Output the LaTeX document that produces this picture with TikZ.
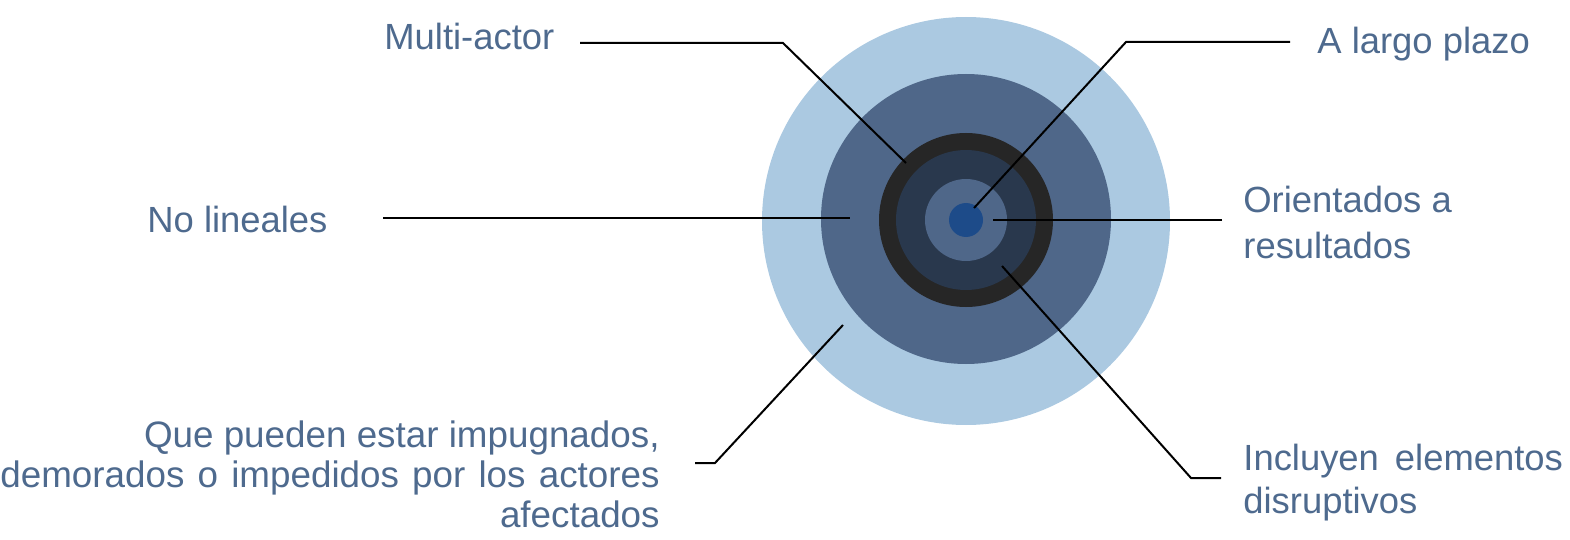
\documentclass[tikz,border=0pt]{standalone}
\usepackage{fontspec}
\setmainfont{Liberation Sans}
\definecolor{txtblue}{HTML}{4E6A8E}
\definecolor{lightblue}{HTML}{ABC9E1}
\definecolor{midblue}{HTML}{4F6789}
\definecolor{ringdark}{HTML}{262626}
\definecolor{navy}{HTML}{29384D}
\definecolor{dotblue}{HTML}{1D4B89}
\begin{document}
\begin{tikzpicture}[x=0.5pt,y=-0.5pt,
  lbl/.style={text=txtblue, font=\fontsize{18.2}{22}\selectfont, inner sep=0pt},
  lblq/.style={text=txtblue, font=\fontsize{18.4}{22}\selectfont, inner sep=0pt},
  disc/.style={circle, draw=none, inner sep=0pt, fill=#1},
  conn/.style={draw=black, line width=1pt, line join=miter}]
\useasboundingbox (0,0) rectangle (1570,540);
% concentric discs
\node[disc=lightblue, minimum size=204pt] (c1) at (966,221) {};
\node[disc=midblue, minimum size=145pt] (c2) at (966,219) {};
\node[disc=ringdark, minimum size=87pt] (c3) at (966,220) {};
\node[disc=navy, minimum size=70pt] (c4) at (966,220) {};
\node[disc=midblue, minimum size=41pt] (c5) at (966,220) {};
\node[disc=dotblue, minimum size=17pt] (c6) at (966,220) {};
% labels
\node[lbl, anchor=base west] (ma) at (384,50) {Multi-actor};
\node[lbl, anchor=base west] (alp) at (1317,54) {A largo plazo};
\node[lbl, anchor=base west] (nl) at (147,233) {No lineales};
\node[lbl, anchor=base west] (or1) at (1243,213) {Orientados a};
\node[lbl, anchor=base west] (or2) at (1243,258) {resultados};
\node[lbl, anchor=base west] (in1) at (1243,470) {Incluyen\hspace{8pt}elementos};
\node[lbl, anchor=base west] (in2) at (1243,513) {disruptivos};
\node[lblq, anchor=base east] (q1) at (660,447) {Que pueden estar impugnados,};
\node[lblq, anchor=base east] (q2) at (660,487) {\spaceskip=6.6pt plus 0pt minus 0pt demorados o impedidos por los actores};
\node[lblq, anchor=base east] (q3) at (660,527) {afectados};
% connector points
\coordinate (maS) at (580,43);  \coordinate (maB) at (783,43);  \coordinate (maE) at (906,163);
\coordinate (alS) at (1290,42); \coordinate (alB) at (1126,42); \coordinate (alE) at (974,208);
\coordinate (nlS) at (383,218); \coordinate (nlE) at (850,218);
\coordinate (orS) at (1222,220); \coordinate (orE) at (993,220);
\coordinate (inS) at (1221,478); \coordinate (inB) at (1191,478); \coordinate (inE) at (1002,266);
\coordinate (qS) at (695,463);  \coordinate (qB) at (715,463);  \coordinate (qE) at (843,325);
% connectors
\draw[conn] (maS) -- (maB) -- (maE);
\draw[conn] (alS) -- (alB) -- (alE);
\draw[conn] (nlS) -- (nlE);
\draw[conn] (orS) -- (orE);
\draw[conn] (inS) -- (inB) -- (inE);
\draw[conn] (qS) -- (qB) -- (qE);
\end{tikzpicture}
\end{document}
